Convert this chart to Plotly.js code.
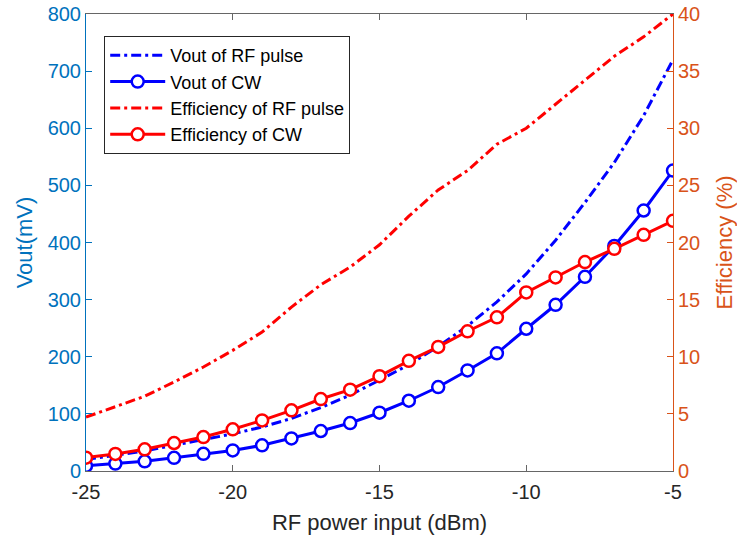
<!DOCTYPE html>
<html>
<head>
<meta charset="utf-8">
<script src="https://cdn.plot.ly/plotly-3.0.1.min.js"></script>
<style>html,body{margin:0;padding:0;background:#fff;}#chart{width:737px;height:545px;}</style>
</head>
<body>
<div id="chart"></div>
<script>
const powerInput = [-25,-24,-23,-22,-21,-20,-19,-18,-17,-16,-15,-14,-13,-12,-11,-10,-9,-8,-7,-6,-5];
const voutPulse = [20,27,35,45,55,65,77,92,111,133,159,186,218,254,296,345,404,470,540,622,720];
const voutCW = [9,13,17,23,30,36,45,57,70,84,102,123,147,176,206,249,291,340,394,456,526];
const effPulse = [4.72,5.66,6.54,7.79,9.1,10.56,12.16,14.35,16.3,17.85,19.8,22.3,24.6,26.3,28.6,30.0,32.1,34.2,36.3,38.0,40.0];
const effCW = [1.17,1.49,1.90,2.45,2.97,3.65,4.43,5.31,6.30,7.12,8.3,9.64,10.86,12.23,13.45,15.63,16.94,18.29,19.45,20.67,21.9];
const xTicks = [-25,-20,-15,-10,-5];

const BLUE = '#0000FF', RED = '#FF0000';
const LBLUE = '#0072BD', LORANGE = '#D95319';
const DASHDOT = '10px,4px,3px,4px';

const traces = [
  {x: powerInput, y: voutPulse, name: 'Vout of RF pulse', mode: 'lines', yaxis: 'y',
   line: {color: BLUE, width: 3, dash: DASHDOT}},
  {x: powerInput, y: voutCW, name: 'Vout of CW', mode: 'lines+markers', yaxis: 'y',
   line: {color: BLUE, width: 3},
   marker: {symbol: 'circle', size: 12, color: '#fff', line: {color: BLUE, width: 2.5}}},
  {x: powerInput, y: effPulse, name: 'Efficiency of RF pulse', mode: 'lines', yaxis: 'y2',
   line: {color: RED, width: 3, dash: DASHDOT}},
  {x: powerInput, y: effCW, name: 'Efficiency of CW', mode: 'lines+markers', yaxis: 'y2',
   line: {color: RED, width: 3},
   marker: {symbol: 'circle', size: 12, color: '#fff', line: {color: RED, width: 2.5}}}
];

const layout = {
  width: 737, height: 545,
  margin: {l: 86, r: 64, t: 14, b: 74},
  paper_bgcolor: '#fff', plot_bgcolor: '#fff',
  font: {family: 'Liberation Sans, Arial, sans-serif', size: 20, color: '#262626'},
  showlegend: true,
  legend: {x: 0.031, y: 0.952, xanchor: 'left', yanchor: 'top',
           bgcolor: '#fff', bordercolor: '#262626', borderwidth: 1,
           itemwidth: 55, tracegroupgap: 0,
           font: {size: 18, color: '#000'}},
  xaxis: {range: [-25, -5], tickvals: xTicks, ticktext: xTicks.map(String),
          ticks: 'inside', ticklen: 6, tickcolor: '#666', showline: true, linecolor: '#666',
          mirror: 'ticks', showgrid: false, zeroline: false, ticklabelstandoff: 3,
          tickfont: {size: 20, color: '#262626'},
          title: {text: 'RF power input (dBm)', standoff: 12, font: {size: 22, color: '#262626'}}},
  yaxis: {range: [0, 800], dtick: 100, ticks: 'inside', ticklen: 6, tickcolor: LBLUE,
          showline: true, linecolor: LBLUE, showgrid: false, zeroline: false,
          tickfont: {size: 20, color: LBLUE},
          title: {text: 'Vout(mV)', font: {size: 22, color: LBLUE}}},
  yaxis2: {range: [0, 40], dtick: 5, overlaying: 'y', side: 'right',
           ticks: 'inside', ticklen: 6, tickcolor: LORANGE,
           showline: true, linecolor: LORANGE, showgrid: false, zeroline: false,
           tickfont: {size: 20, color: LORANGE},
           title: {text: 'Efficiency (%)', font: {size: 22, color: LORANGE}}}
};

Plotly.newPlot('chart', traces, layout, {displayModeBar: false, staticPlot: true});
</script>
</body>
</html>
